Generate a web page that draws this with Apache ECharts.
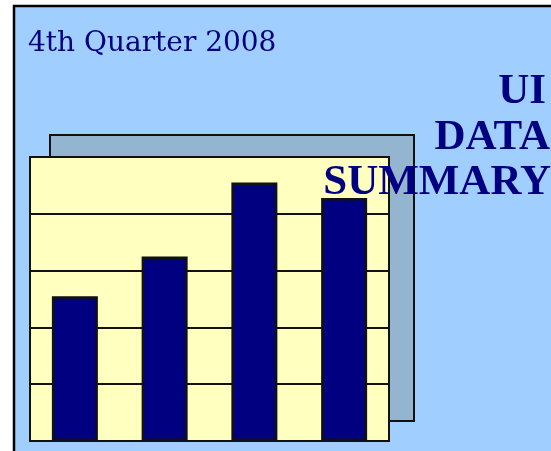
<!DOCTYPE html>
<html>
<head>
    <meta charset="utf-8">
    <title>UI Data Summary</title>
    <script type="text/javascript" src="https://cdn.jsdelivr.net/npm/echarts@6/dist/echarts.min.js"></script>
    <style type="text/css">
        html, body { margin: 0; padding: 0; background: #fff; }
        #chart { width: 551px; height: 451px; }
    </style>
</head>
<body>
<div id="chart"></div>
<script type="text/javascript">
    // data
    let categories = ['Q1', 'Q2', 'Q3', 'Q4'];
    let values = [2.55, 3.25, 4.55, 4.28];
    let yTicks = [0, 1, 2, 3, 4, 5];

    let navy = '#000080';
    let chart = echarts.init(document.getElementById('chart'), null, {renderer: 'canvas'});

    chart.setOption({
        backgroundColor: '#ffffff',
        animation: false,
        graphic: [
            // light blue page with black frame (left/top edges show)
            {type: 'rect', z: -20, shape: {x: 14, y: 6, width: 560, height: 470},
                style: {fill: '#a0cfff', stroke: '#000', lineWidth: 2.5}},
            // shadow panel behind the chart
            {type: 'rect', z: -10, shape: {x: 50, y: 135, width: 364, height: 286},
                style: {fill: '#93b5cf', stroke: '#111', lineWidth: 2}},
            {type: 'text', z: 50, left: 28, top: 30,
                style: {text: '4th Quarter 2008', fill: navy, font: '28px "DejaVu Serif"'}},
            {type: 'text', z: 50, right: 5, top: 70,
                style: {text: 'UI', fill: navy, font: 'bold 43px "Liberation Serif"', textAlign: 'right'}},
            {type: 'text', z: 50, right: 1, top: 116,
                style: {text: 'DATA', fill: navy, font: 'bold 43px "Liberation Serif"', textAlign: 'right'}},
            {type: 'text', z: 50, right: 0, top: 161,
                style: {text: 'SUMMARY', fill: navy, font: 'bold 43px "Liberation Serif"', textAlign: 'right'}}
        ],
        grid: {
            left: 30, top: 157, width: 359, height: 284,
            show: true, backgroundColor: '#ffffc0', borderColor: '#111', borderWidth: 2
        },
        xAxis: {
            type: 'category', data: categories,
            axisLine: {show: false}, axisTick: {show: false}, axisLabel: {show: false}
        },
        yAxis: {
            type: 'value', min: yTicks[0], max: yTicks[yTicks.length - 1], interval: 1,
            axisLine: {show: false}, axisTick: {show: false}, axisLabel: {show: false},
            splitLine: {lineStyle: {color: '#111', width: 2}}
        },
        series: [{
            type: 'bar', data: values, barWidth: 46,
            itemStyle: {color: navy, borderColor: '#111', borderWidth: 2.5}
        }]
    });
</script>
</body>
</html>
